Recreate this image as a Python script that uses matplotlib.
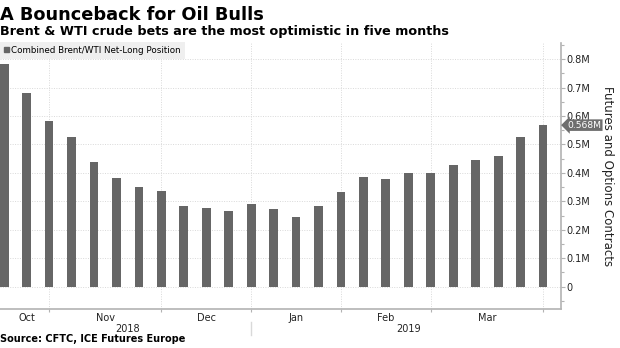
import numpy as np
import matplotlib.pyplot as plt
from matplotlib.patches import Patch
from matplotlib.ticker import MultipleLocator, FuncFormatter

# Weekly combined Brent/WTI net-long position, millions of contracts
net_long = [0.784, 0.681, 0.583, 0.527, 0.437, 0.381, 0.350, 0.336, 0.282,
            0.275, 0.265, 0.289, 0.274, 0.246, 0.285, 0.332, 0.387, 0.380,
            0.399, 0.401, 0.428, 0.447, 0.458, 0.525, 0.568]

# first week of each month (bar index) and the month names between them
month_starts = [0, 2, 7, 11, 15, 19, 24]
month_names = ["Oct", "Nov", "Dec", "Jan", "Feb", "Mar"]
year_bounds = [0, 11, 25]
year_names = ["2018", "2019"]

bar_color = "#666666"
grid_color = "#d9d9d9"
axis_color = "#b3b3b3"

W, H = 620, 348
fig = plt.figure(figsize=(W / 100, H / 100), dpi=100)
ax = fig.add_axes([0, 1 - 309 / H, 561 / W, (309 - 43) / H])

x = np.arange(len(net_long))
ax.bar(x, net_long, width=0.39, color=bar_color, zorder=3,
       label="Combined Brent/WTI Net-Long Position")

ax.set_xlim(-0.187, 24.8)
ax.set_ylim(-0.079, 0.857)

# right-hand value axis
ax.yaxis.tick_right()
ax.yaxis.set_label_position("right")
ax.yaxis.set_major_locator(MultipleLocator(0.1))
ax.yaxis.set_minor_locator(MultipleLocator(0.05))
ax.yaxis.set_major_formatter(FuncFormatter(
    lambda v, p: "0" if abs(v) < 1e-9 else f"{v:.1f}M"))
ax.set_yticks([v / 10 for v in range(9)])
ax.tick_params(axis="y", which="major", length=3, width=0.8, color=axis_color,
               labelsize=7, pad=1, labelcolor="#222222")
ax.tick_params(axis="y", which="minor", length=2, width=0.8, color=axis_color)
ax.set_ylabel("Futures and Options Contracts", rotation=270, fontsize=8.5,
              labelpad=17, color="#222222")

# month boundaries as ticks/gridlines, names as minor labels in between
ax.set_xticks(month_starts[1:])
ax.set_xticklabels([])
mids = [(a + b) / 2 for a, b in zip(month_starts[:-1], month_starts[1:])]
ax.set_xticks(mids, minor=True)
ax.set_xticklabels(month_names, minor=True)
ax.tick_params(axis="x", which="major", length=2, width=0.8, color=axis_color)
ax.tick_params(axis="x", which="minor", length=0, labelsize=7, pad=3,
               labelcolor="#222222")

ax.grid(True, which="major", axis="both", color=grid_color, linestyle=(0, (1, 1.5)),
        linewidth=0.7, zorder=0)

for s in ["left", "top"]:
    ax.spines[s].set_visible(False)
for s in ["right", "bottom"]:
    ax.spines[s].set_color(axis_color)
    ax.spines[s].set_linewidth(1.2)

# year row under the months
for (a, b), name in zip(zip(year_bounds[:-1], year_bounds[1:]), year_names):
    ax.text((a + b) / 2, -0.15, name, ha="center", va="center", fontsize=7,
            color="#222222", clip_on=False)
ax.plot([year_bounds[1], year_bounds[1]], [-0.126, -0.17], color=grid_color,
        linewidth=1, clip_on=False)

# callout for the latest value
last = net_long[-1]
ax.annotate(f"{last:.3f}M", xy=(1, last), xycoords=("axes fraction", "data"),
            xytext=(4.5, 0), textcoords="offset points", ha="left", va="center",
            fontsize=6.6, color="white",
            bbox=dict(boxstyle="larrow,pad=0.14", fc="#6e6e6e", ec="none"))

leg = ax.legend(handles=[Patch(color=bar_color, label="Combined Brent/WTI Net-Long Position")],
                loc="upper left", bbox_to_anchor=(0, 1.005), borderaxespad=0,
                frameon=True, fancybox=False, fontsize=6.3, handlelength=0.55,
                handleheight=0.55, handletextpad=0.3, borderpad=0.45)
leg.get_frame().set_facecolor("#efefef")
leg.get_frame().set_edgecolor("none")
leg.get_frame().set_alpha(1)
leg.set_zorder(5)

fig.text(0, 1 - 19.5 / H, "A Bounceback for Oil Bulls", fontsize=12.8,
         fontweight="bold", ha="left", va="baseline", color="black")
fig.text(0, 1 - 35 / H, "Brent & WTI crude bets are the most optimistic in five months",
         fontsize=9.2, fontweight="bold", ha="left", va="baseline", color="black")
fig.text(0, 1 - 342 / H, "Source: CFTC, ICE Futures Europe", fontsize=7,
         fontweight="bold", ha="left", va="baseline", color="black")

fig.savefig("out.png", dpi=100)
